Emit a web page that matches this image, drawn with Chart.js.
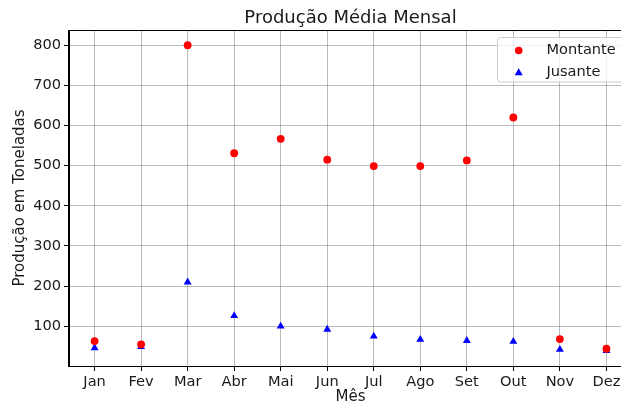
<!DOCTYPE html>
<html>
<head>
<meta charset="utf-8">
<script src="https://cdn.jsdelivr.net/npm/chart.js@4/dist/chart.umd.min.js"></script>
<style>
html,body{margin:0;padding:0;overflow:hidden;background:#fff;}
canvas{display:block;}
</style>
</head>
<body>
<canvas id="c" width="640" height="403"></canvas>
<script>
const months = ['Jan','Fev','Mar','Abr','Mai','Jun','Jul','Ago','Set','Out','Nov','Dez'];
const montante = [63, 55, 800, 531, 567, 515, 499, 499, 513, 620, 68, 44];
const jusante = [46, 49, 210, 126, 100, 92, 75, 67, 64, 62, 42, 39];
const yTicks = [100, 200, 300, 400, 500, 600, 700, 800];
const seriesNames = ['Montante', 'Jusante'];

const FONT = "'DejaVu Sans', sans-serif";
const TXT = '#1a1a1a';
const GRID = 'rgba(120,120,120,0.5)';

const framePlugin = {
  id: 'frame',
  afterDatasetsDraw(chart) {
    const {ctx, chartArea: a} = chart;
    ctx.save();
    ctx.strokeStyle = '#000';
    ctx.lineWidth = 1;
    ctx.strokeRect(Math.round(a.left) - 0.5, Math.round(a.top) + 0.5, Math.round(a.right - a.left), Math.round(a.bottom - a.top));
    ctx.restore();
  },
  afterDraw(chart) {
    const {ctx, chartArea: a} = chart;
    const left = a.right - 135, top = a.top + 7, w = 128, h = 44.5;
    ctx.save();
    ctx.beginPath();
    if (ctx.roundRect) ctx.roundRect(left + 0.5, top + 0.5, w, h, 3); else ctx.rect(left + 0.5, top + 0.5, w, h);
    ctx.fillStyle = 'rgba(255,255,255,0.8)';
    ctx.fill();
    ctx.strokeStyle = '#cccccc';
    ctx.lineWidth = 1;
    ctx.stroke();
    ctx.font = '14.6px ' + FONT;
    ctx.fillStyle = TXT;
    ctx.textBaseline = 'middle';
    chart.data.datasets.forEach((ds, i) => {
      const y = top + 13.5 + i * 21.7;
      const mx = left + 21.7;
      ctx.fillStyle = ds.backgroundColor;
      ctx.beginPath();
      if (ds.pointStyle === 'circle') {
        ctx.arc(mx, y, 3.8, 0, Math.PI * 2);
      } else {
        ctx.moveTo(mx, y - 4);
        ctx.lineTo(mx + 4, y + 3);
        ctx.lineTo(mx - 4, y + 3);
        ctx.closePath();
      }
      ctx.fill();
      ctx.fillStyle = TXT;
      ctx.fillText(ds.label, left + 49.4, y);
    });
    ctx.restore();
  }
};

new Chart(document.getElementById('c'), {
  type: 'scatter',
  data: {
    datasets: [
      {
        label: seriesNames[0],
        data: months.map((m, i) => ({x: i, y: montante[i]})),
        pointStyle: 'circle',
        pointRadius: 3.9,
        backgroundColor: '#ff0000',
        borderColor: '#ff0000',
        borderWidth: 0
      },
      {
        label: seriesNames[1],
        data: months.map((m, i) => ({x: i, y: jusante[i]})),
        pointStyle: 'triangle',
        pointRadius: 4.6,
        backgroundColor: '#0000ff',
        borderColor: '#0000ff',
        borderWidth: 0
      }
    ]
  },
  options: {
    responsive: false,
    animation: false,
    devicePixelRatio: 1,
    layout: {padding: {left: 0, right: 8, top: 0, bottom: 0}},
    plugins: {
      legend: {display: false},
      tooltip: {enabled: false},
      title: {
        display: true,
        text: 'Produção Média Mensal',
        fullSize: false,
        color: TXT,
        font: {family: FONT, size: 18, weight: 'normal'},
        padding: {top: 8, bottom: 0.4}
      }
    },
    scales: {
      x: {
        type: 'linear',
        min: -0.55,
        max: 11.55,
        afterBuildTicks(scale) { scale.ticks = months.map((m, i) => ({value: i})); },
        afterFit(scale) { scale.height = 37; },
        ticks: {
          callback: (v) => months[v],
          color: TXT,
          font: {family: FONT, size: 14.6},
          padding: 2,
          maxRotation: 0,
          autoSkip: false
        },
        grid: {color: GRID, lineWidth: 1, tickColor: '#000', tickLength: 5, drawTicks: true},
        border: {display: true, color: '#000', width: 1},
        title: {
          display: true,
          text: 'Mês',
          color: TXT,
          font: {family: FONT, size: 15},
          padding: {top: 0, bottom: -3}
        }
      },
      y: {
        type: 'linear',
        min: 1,
        max: 838,
        afterBuildTicks(scale) { scale.ticks = yTicks.map(v => ({value: v})); },
        afterFit(scale) { scale.width = 69; },
        ticks: {
          color: TXT,
          font: {family: FONT, size: 14.6},
          padding: 3
        },
        grid: {color: GRID, lineWidth: 1, tickColor: '#000', tickLength: 5, drawTicks: true},
        border: {display: true, color: '#000', width: 1},
        title: {
          display: true,
          text: 'Produção em Toneladas',
          color: TXT,
          font: {family: FONT, size: 15},
          padding: {top: 11, bottom: 0}
        }
      }
    }
  },
  plugins: [framePlugin]
});
</script>
</body>
</html>
